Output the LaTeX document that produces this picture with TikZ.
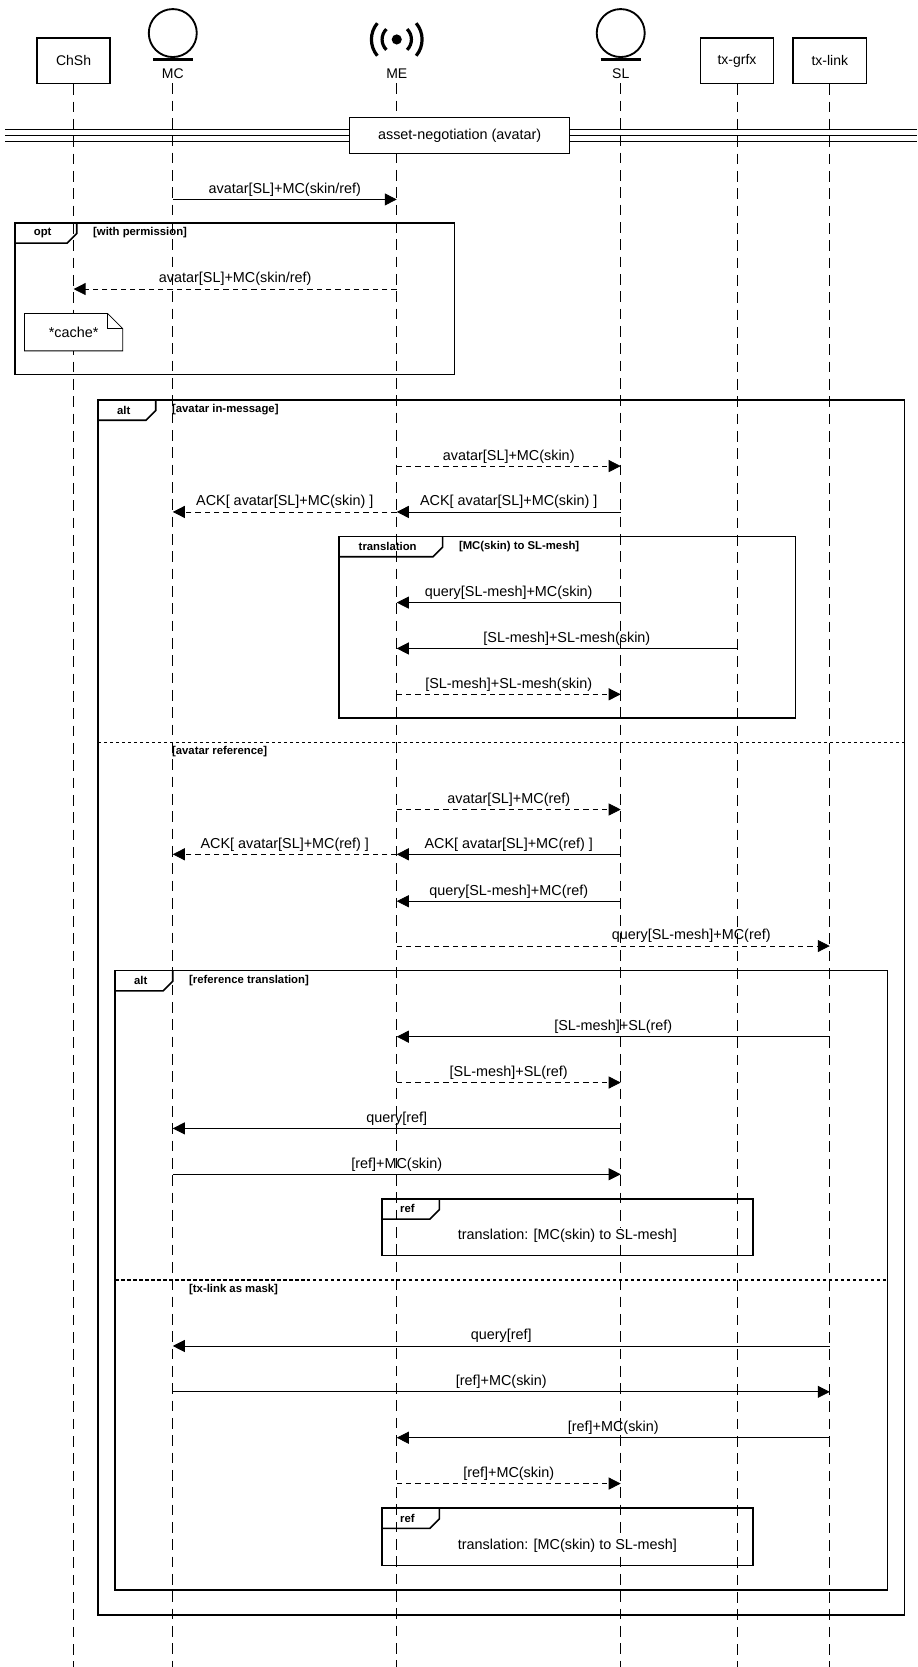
\documentclass[tikz,border=0pt]{standalone}
\usepackage{fontspec}
\setmainfont{Liberation Sans}
\usetikzlibrary{arrows.meta}

% message between two lifelines at height #3
\newcommand{\msgline}[5]{%
  \draw[#4] (#1 |- 0,#3) -- node[lbl]{#5} (#2 |- 0,#3);}
% combined fragment: x0,y0,x1,y1,tab width,kind,guard
\newcommand{\fragbox}[7]{%
  \draw[frame] (#1,#2) rectangle (#3,#4);
  \draw[frame] (#1,#2+19) -- (#1+#5-9,#2+19) -- (#1+#5,#2+10) -- (#1+#5,#2);
  \node[kind] at (#1+#5/2-3,#2+9.5) {#6};
  \node[guard, anchor=west] at (#1+#5+15,#2+9.5) {#7};}

\begin{document}
\begin{tikzpicture}[x=0.8pt,y=-0.8pt,line width=0.6pt,%
        box/.style={draw, line width=1.2pt, minimum width=55pt,
                        minimum height=34pt, font=\fontsize{10.5}{12}\selectfont},
        head/.style={font=\fontsize{10.5}{12}\selectfont},
        life/.style={dash pattern=on 8pt off 5pt, line width=0.6pt},
        lbl/.style={above, inner sep=2pt, font=\fontsize{10.8}{12}\selectfont},
        sync/.style={-{Triangle[length=9pt,width=9pt]}},
        rep/.style={sync, dash pattern=on 4pt off 3pt},
        frame/.style={line width=1.2pt},
        kind/.style={font=\bfseries\fontsize{8.5}{9}\selectfont},
        guard/.style={font=\bfseries\fontsize{8.5}{9}\selectfont, inner sep=0pt},
        split/.style={dash pattern=on 2.5pt off 2pt, line width=1pt}]
\useasboundingbox (0,0) rectangle (860,1563);

% participants
\node[box] (ChSh) at (69,57) {ChSh};
\node[head] (MC) at (162,69) {MC};
\node[head] (ME) at (372,69) {ME};
\node[head] (SL) at (582,69) {SL};
\node[box] (grfx) at (691,57) {tx-grfx};
\node[box] (link) at (778,57) {tx-link};
\foreach \p in {MC,SL} {
    \draw[line width=1.4pt] (\p |- 0,31) circle[radius=18pt];
    \draw[line width=2pt] ([xshift=-15pt]\p |- 0,56) -- ([xshift=15pt]\p |- 0,56);
}
\fill (ME |- 0,37) circle[radius=3.8pt];
\draw[line width=2.4pt] (ME |- 0,37) ++(45:11pt) arc[start angle=45, end angle=-45, radius=11pt];
\draw[line width=2.4pt] (ME |- 0,37) ++(135:11pt) arc[start angle=135, end angle=225, radius=11pt];
\draw[line width=2.4pt] (ME |- 0,37) ++(40:19pt) arc[start angle=40, end angle=-40, radius=19pt];
\draw[line width=2.4pt] (ME |- 0,37) ++(140:19pt) arc[start angle=140, end angle=220, radius=19pt];

% lifelines
\foreach \p in {ChSh,grfx,link} \draw[life] (\p.south) -- (\p |- 0,1563);
\foreach \p in {MC,ME,SL} \draw[life] (\p.south) -- (\p |- 0,1563);

% divider
\foreach \y in {121,127,133} \draw[line width=0.8pt] (5,\y) -- (860,\y);
\node[draw, fill=white, line width=0.8pt, minimum width=165pt, minimum height=27pt,
      font=\fontsize{10.8}{12}\selectfont] (nego) at (431,127) {asset-negotiation (avatar)};

\msgline{MC}{ME}{187}{sync}{avatar[SL]+MC(skin/ref)}

% opt
\fragbox{14}{209}{426}{351}{58}{opt}{[with permission]}
\msgline{ME}{ChSh}{271}{rep}{avatar[SL]+MC(skin/ref)}
\draw[fill=white, line width=0.6pt] (23,294) -- (101,294) -- (115,308) -- (115,329) -- (23,329) -- cycle;
\draw[line width=0.6pt] (101,294) -- (101,308) -- (115,308);
\node[font=\fontsize{10.8}{12}\selectfont] (cache) at (69,312) {*cache*};

% outer alt
\fragbox{92}{375}{848}{1514}{54}{alt}{[avatar in-message]}
\msgline{ME}{SL}{437}{rep}{avatar[SL]+MC(skin)}
\msgline{SL}{ME}{480}{sync}{ACK[ avatar[SL]+MC(skin) ]}
\msgline{ME}{MC}{480}{rep}{ACK[ avatar[SL]+MC(skin) ]}

\fragbox{318}{503}{746}{673}{97}{translation}{[MC(skin) to SL-mesh]}
\msgline{SL}{ME}{565}{sync}{query[SL-mesh]+MC(skin)}
\msgline{grfx}{ME}{608}{sync}{[SL-mesh]+SL-mesh(skin)}
\msgline{ME}{SL}{651}{rep}{[SL-mesh]+SL-mesh(skin)}

\draw[split] (92,696) -- (848,696);
\node[guard, anchor=west] at (161,705) {[avatar reference]};
\msgline{ME}{SL}{759}{rep}{avatar[SL]+MC(ref)}
\msgline{SL}{ME}{801}{sync}{ACK[ avatar[SL]+MC(ref) ]}
\msgline{ME}{MC}{801}{rep}{ACK[ avatar[SL]+MC(ref) ]}
\msgline{SL}{ME}{845}{sync}{query[SL-mesh]+MC(ref)}
\draw[rep] (ME |- 0,887) -- node[lbl, pos=0.68]{query[SL-mesh]+MC(ref)} (link |- 0,887);

% inner alt
\fragbox{108}{910}{832}{1491}{54}{alt}{[reference translation]}
\msgline{link}{ME}{972}{sync}{[SL-mesh]+SL(ref)}
\msgline{ME}{SL}{1015}{rep}{[SL-mesh]+SL(ref)}
\msgline{SL}{MC}{1058}{sync}{query[ref]}
\msgline{MC}{SL}{1101}{sync}{[ref]+MC(skin)}
\fragbox{358}{1124}{706}{1177}{54}{ref}{}
\node[font=\fontsize{10.8}{12}\selectfont, fill=white, inner sep=1pt] (ref1) at (532,1159) {translation: [MC(skin) to SL-mesh]};

\draw[split] (108,1200) -- (832,1200);
\node[guard, anchor=west] at (177,1209) {[tx-link as mask]};
\msgline{link}{MC}{1262}{sync}{query[ref]}
\msgline{MC}{link}{1305}{sync}{[ref]+MC(skin)}
\msgline{link}{ME}{1348}{sync}{[ref]+MC(skin)}
\msgline{ME}{SL}{1391}{rep}{[ref]+MC(skin)}
\fragbox{358}{1414}{706}{1468}{54}{ref}{}
\node[font=\fontsize{10.8}{12}\selectfont, fill=white, inner sep=1pt] (ref2) at (532,1449) {translation: [MC(skin) to SL-mesh]};
\end{tikzpicture}
\end{document}
